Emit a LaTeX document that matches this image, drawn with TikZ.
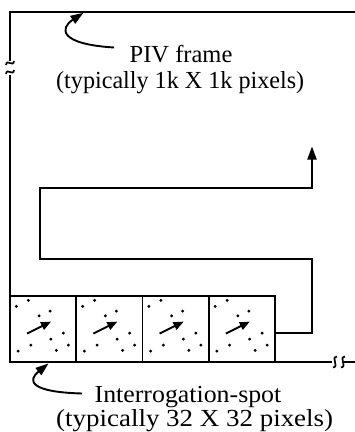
\documentclass[tikz,border=0pt]{standalone}
\usepackage{fontspec}
\setmainfont{Liberation Serif}
\usetikzlibrary{arrows.meta,calc}
\tikzset{
  ln/.style={line width=1.9pt, draw=black},
  cellbox/.style={draw=black, line width=1.8pt, minimum width=66.25pt, minimum height=65.5pt, inner sep=0pt},
  lbl/.style={anchor=base west, inner sep=0pt, font=\fontsize{24.5}{26}\selectfont, text=black},
  bigtip/.style={-{Triangle[length=13pt,width=9pt]}},
  smalltip/.style={-{Triangle[length=10pt,width=8pt]}},
  brk/.style={line width=1.7pt, draw=black},
}
\begin{document}
\begin{tikzpicture}[x=1pt,y=-1pt]
\useasboundingbox (0,0) rectangle (355,432);
% frame
\coordinate (tl) at (10,12);
\coordinate (tr) at (355,12);
\coordinate (lb1) at (10,60.5);
\coordinate (lb2) at (10,75);
\coordinate (bl) at (10,362);
\coordinate (bb1) at (332,362);
\coordinate (bb2) at (344,362);
\coordinate (br) at (355,362);
\draw[ln] (tr) -- (tl) -- (lb1);
\draw[ln] (lb2) -- (bl) -- (bb1);
\draw[ln] (bb2) -- (br);
% break marks
\draw[brk] (6,65) .. controls (7,58) and (13,68) .. (14,61);
\draw[brk] (6,74) .. controls (7,67) and (13,77) .. (14,70);
\draw[brk] (337,356.5) .. controls (330,357.5) and (340,366.5) .. (333,367.5);
\draw[brk] (345,356.5) .. controls (338,357.5) and (348,366.5) .. (341,367.5);
% cells
\foreach \i/\cx in {1/43.125,2/109.375,3/175.625,4/241.875}{
  \node[cellbox] (c\i) at (\cx,328.75) {};
  \foreach \dx/\dy in {7.3/11.3,19.3/5.3,30/20.7,41/16,54.3/38,41.7/44,21.7/50,9/56,47.3/55.3,59.3/50}{
    \fill[black] ($(c\i.north west)+(\dx,\dy)$) circle (1.6);
  }
  \coordinate (a\i) at ($(c\i.north west)+(18,38.5)$);
  \coordinate (b\i) at ($(c\i.north west)+(42,26.5)$);
  \draw[ln, smalltip] (a\i) -- (b\i);
}
% serpentine scan path
\coordinate (s0) at (275,333);
\coordinate (s1) at (312,333);
\coordinate (s2) at (312,259);
\coordinate (s3) at (40,259);
\coordinate (s4) at (40,188);
\coordinate (s5) at (312,188);
\coordinate (s6) at (312,146.5);
\draw[ln, bigtip] (s0) -- (s1) -- (s2) -- (s3) -- (s4) -- (s5) -- (s6);
% labels
\node[lbl] (t1) at (129.5,62) {\scalebox{1.0}[1]{PIV frame}};
\node[lbl] (t2) at (56,88) {\scalebox{0.985}[1]{(typically 1k X 1k pixels)}};
\node[lbl] (t3) at (94.5,402) {\scalebox{1.055}[1]{Interrogation-spot}};
\node[lbl] (t4) at (56,426) {\scalebox{1.1}[1]{(typically 32 X 32 pixels)}};
% label arrows
\coordinate (p0) at (114,47.5);
\coordinate (p1) at (83.5,12.8);
\draw[ln, bigtip] (p0) .. controls (58,44) and (60,28) .. (p1);
\coordinate (q0) at (82,393.5);
\coordinate (q1) at (48.5,363.5);
\draw[ln, bigtip] (q0) .. controls (28,392) and (28,380) .. (q1);
\end{tikzpicture}
\end{document}
